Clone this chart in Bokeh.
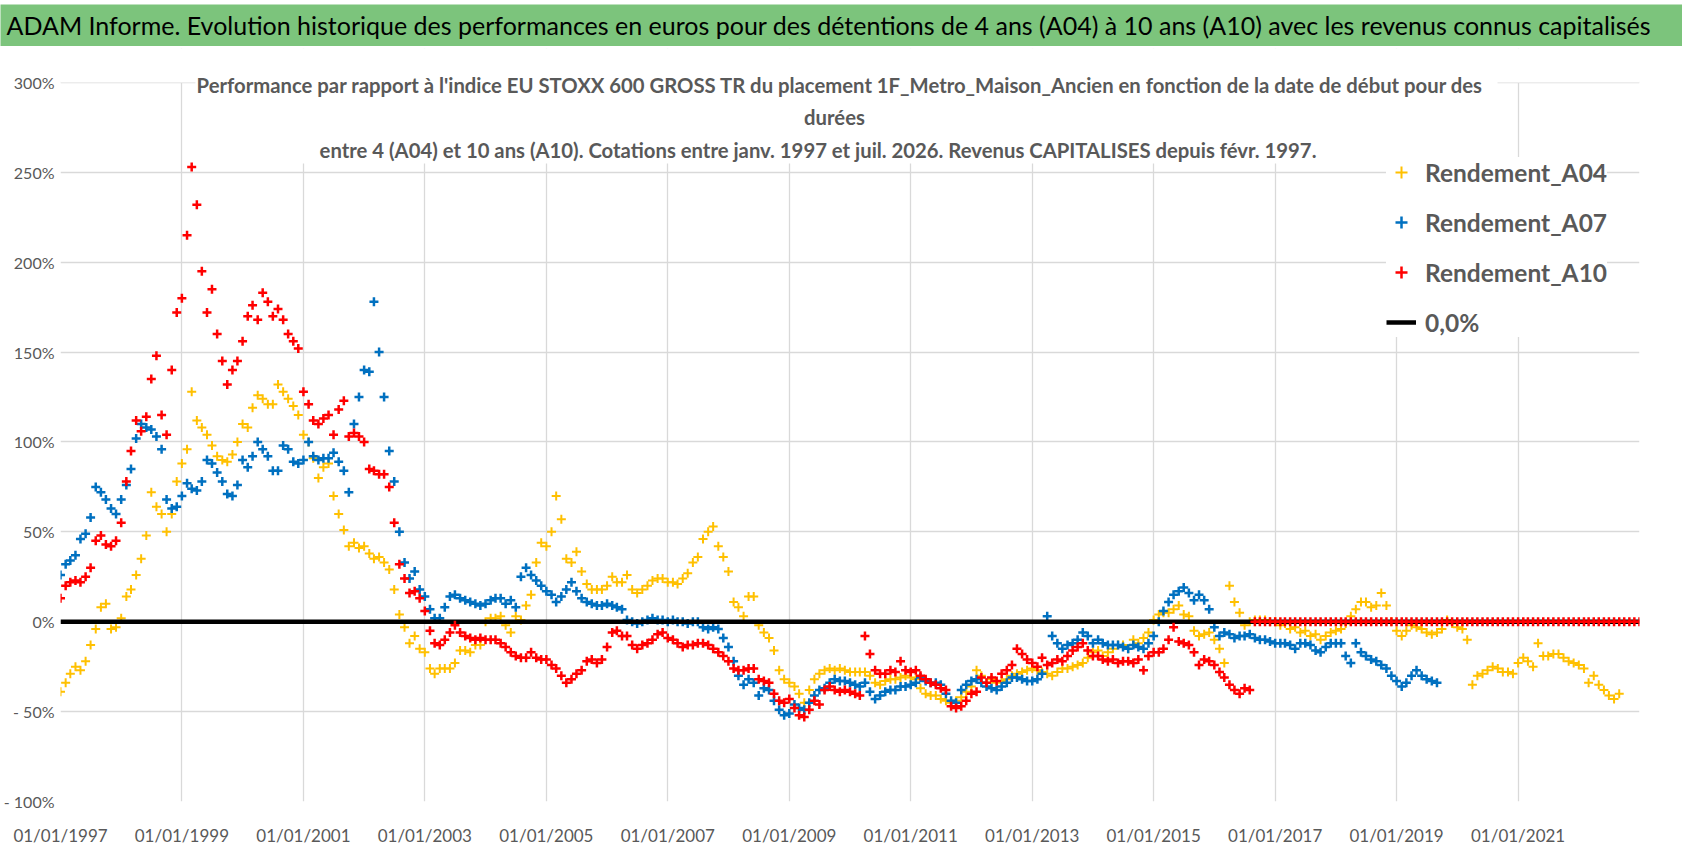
import pandas as pd
from bokeh.plotting import figure
from bokeh.layouts import column
from bokeh.models import (Range1d, FixedTicker, DatetimeTickFormatter, Legend,
                          LegendItem, Label, BoxAnnotation)
from bokeh.embed import file_html
from bokeh.resources import INLINE

FONT = "Lato"
GREY = "#595959"

# monthly readings, first value = janv. 1997
first_month = "1997-01-01"
axis_start = "1997-01-01"
axis_end = "2023-01-01"

rendement_a04 = [
    -39, -34, -29, -25, -27, -22, -13, -4, 8, 10,
    -4, -3, 2, 14, 18, 26, 35, 48, 72, 64,
    60, 50, 60, 78, 88, 96, 128, 112, 108, 104,
    98, 92, 90, 89, 93, 100, 110, 108, 119, 126,
    124, 121, 121, 132, 128, 124, 120, 115, 104, 100,
    91, 80, 86, 88, 70, 60, 51, 42, 44, 41,
    42, 38, 35, 36, 33, 29, 18, 4, -3, -12,
    -8, -15, -17, -26, -29, -26, -26, -26, -23, -16,
    -16, -17, -13, -13, 0, 2, 2, 3, -2, -6,
    3, 1, 9, 15, 33, 44, 42, 50, 70, 57,
    35, 33, 39, 28, 21, 18, 18, 18, 20, 25,
    22, 22, 26, 18, 16, 18, 20, 23, 24, 24,
    22, 22, 21, 24, 27, 33, 36, 46, 50, 53,
    42, 36, 28, 11, 8, 3, 14, 14, -2, -6,
    -9, -16, -27, -32, -34, -36, -40, -45, -38, -32,
    -29, -27, -26, -27, -26, -27, -28, -28, -28, -28,
    -30, -34, -35, -33, -32, -32, -31, -30, -31, -32,
    -37, -40, -41, -41, -43, -44, -45, -44, -42, -39,
    -36, -27, -30, -34, -32, -34, -33, -32, -30, -29,
    -28, -27, -26, -27, -28, -29, -30, -28, -26, -26,
    -25, -24, -23, -20, -17, -16, -19, -17, -15, -13,
    -13, -15, -10, -12, -9, -6, 1, 4, 5, 5,
    7, 9, 4, 3, -5, -8, -7, -6, -10, -15,
    -23, 20, 11, 5, -2, 0, 1, 1, 1, 0,
    0, -2, -1, -4, -3, -6, -5, -8, -7, -10,
    -8, -6, -5, -4, -1, 3, 7, 11, 11, 8,
    9, 16, 9, 0, -5, -8, -5, -2, -3, -4,
    -6, -7, -6, -4, 1, -1, -3, -4, -10, -35,
    -30, -29, -27, -25, -26, -28, -28, -29, -23, -20,
    -22, -25, -12, -19, -19, -18, -18, -20, -22, -23,
    -24, -26, -34, -30, -35, -38, -41, -43, -40,
]

rendement_a07 = [
    26, 32, 34, 37, 46, 49, 58, 75, 72, 68,
    63, 60, 68, 76, 85, 102, 110, 108, 107, 103,
    96, 68, 63, 64, 70, 77, 74, 73, 78, 90,
    88, 83, 78, 71, 70, 76, 90, 86, 92, 100,
    96, 92, 84, 84, 98, 96, 89, 88, 90, 100,
    92, 90, 91, 91, 94, 89, 84, 72, 110, 125,
    140, 139, 178, 150, 125, 95, 78, 50, 33, 24,
    28, 18, 14, 7, 2, 2, 8, 14, 15, 13,
    12, 11, 10, 9, 10, 12, 13, 13, 10, 12,
    8, 25, 30, 26, 23, 20, 17, 15, 11, 14,
    18, 22, 17, 13, 11, 10, 9, 9, 10, 9,
    8, 7, 1, 0, -1, 0, 1, 2, 1, 1,
    0, 1, 0, 0, -1, 0, 0, -3, -4, -3,
    -4, -9, -14, -22, -30, -35, -32, -34, -41, -37,
    -38, -44, -49, -52, -51, -46, -48, -49, -45, -41,
    -38, -37, -34, -32, -33, -33, -34, -35, -36, -34,
    -39, -43, -41, -39, -38, -38, -36, -36, -35, -34,
    -31, -33, -34, -34, -35, -40, -44, -45, -38, -35,
    -33, -32, -34, -36, -37, -38, -36, -34, -31, -31,
    -32, -33, -33, -32, -29, 3, -8, -12, -15, -13,
    -12, -10, -6, -8, -12, -10, -12, -13, -13, -13,
    -14, -15, -13, -14, -15, -12, -8, 0, 6, 11,
    15, 17, 19, 16, 12, 15, 12, 7, -3, -8,
    -6, -7, -9, -8, -8, -7, -9, -10, -10, -11,
    -12, -12, -12, -13, -15, -12, -12, -13, -16, -17,
    -14, -12, -12, -12, -19, -23, -12, -17, -19, -21,
    -22, -24, -26, -30, -33, -36, -34, -30, -27, -30,
    -32, -33, -34,
]

rendement_a10 = [
    13, 20, 22, 23, 22, 25, 30, 45, 48, 43,
    42, 45, 55, 78, 95, 112, 106, 114, 135, 148,
    115, 104, 140, 172, 180, 215, 253, 232, 195, 172,
    185, 160, 145, 132, 140, 145, 156, 170, 176, 168,
    183, 178, 170, 174, 168, 160, 156, 152, 128, 121,
    112, 110, 113, 115, 104, 118, 123, 103, 105, 103,
    100, 85, 84, 82, 82, 75, 55, 32, 24, 16,
    17, 13, 6, -5, -12, -13, -10, -6, -2, -6,
    -8, -9, -10, -9, -10, -10, -10, -12, -14, -17,
    -19, -20, -20, -17, -20, -21, -21, -24, -26, -30,
    -34, -32, -29, -27, -22, -21, -23, -21, -14, -6,
    -5, -8, -8, -13, -15, -13, -12, -10, -7, -6,
    -9, -10, -12, -14, -13, -13, -12, -12, -13, -15,
    -17, -19, -22, -26, -27, -27, -26, -26, -32, -33,
    -34, -40, -44, -45, -43, -48, -52, -53, -49, -44,
    -46, -38, -36, -38, -39, -38, -39, -40, -41, -8,
    -18, -27, -29, -29, -27, -28, -22, -27, -28, -27,
    -30, -32, -34, -35, -37, -38, -47, -48, -47, -44,
    -40, -39, -31, -34, -31, -33, -29, -27, -24, -15,
    -18, -21, -23, -25, -20, -24, -23, -21, -22, -19,
    -16, -14, -12, -16, -19, -19, -21, -22, -21, -23,
    -22, -22, -23, -21, -27, -19, -17, -17, -15, -10,
    -3, -11, -12, -13, -17, -24, -21, -22, -24, -28,
    -31, -35, -38, -40, -37, -38, 0, 0, 0, 0,
    0, 0, 0, 0, 0, 0, 0, 0, 0, 0,
    0, 0, 0, 0, 0, 0, 0, 0, 0, 0,
    0, 0, 0, 0, 0, 0, 0, 0, 0, 0,
    0, 0, 0, 0, 0, 0, 0, 0, 0, 0,
    0, 0, 0, 0, 0, 0, 0, 0, 0, 0,
    0, 0, 0, 0, 0, 0, 0, 0, 0, 0,
    0, 0, 0, 0, 0, 0, 0, 0, 0, 0,
    0, 0, 0,
]

zero_line = [0.0, 0.0]

year_ticks = [1997, 1999, 2001, 2003, 2005, 2007, 2009, 2011, 2013, 2015, 2017, 2019, 2021]
pct_ticks = [-100, -50, 0, 50, 100, 150, 200, 250, 300]
pct_labels = ["- 100%", "- 50%", "0%", "50%", "100%", "150%", "200%", "250%", "300%"]

header = ("ADAM Informe. Evolution historique des performances en euros pour des détentions "
          "de 4 ans (A04) à 10 ans (A10) avec les revenus connus capitalisés")
subtitle = [
    "Performance par rapport à l'indice EU STOXX 600 GROSS TR  du placement 1F_Metro_Maison_Ancien "
    "en fonction de la date de début pour des",
    "durées",
    "entre 4 (A04) et 10 ans (A10).  Cotations entre janv. 1997 et juil. 2026. "
    "Revenus CAPITALISES depuis févr. 1997.",
]
series_names = ["Rendement_A04", "Rendement_A07", "Rendement_A10", "0,0%"]


def month_dates(values):
    return pd.date_range(first_month, periods=len(values), freq="MS")


# header band
head = figure(width=1682, height=46, x_range=(0, 1), y_range=(0, 1),
              toolbar_location=None, output_backend="svg",
              x_axis_location=None, y_axis_location=None,
              min_border=0, min_border_top=4)
head.frame_align = False
head.grid.visible = False
head.background_fill_color = "#7CC47C"
head.border_fill_color = "white"
head.outline_line_color = None
head.add_layout(Label(x=6, y=22, x_units="screen", y_units="screen", text=header,
                      text_font=FONT, text_font_size="25px",
                      text_color="black", text_baseline="middle"))

# main chart
p = figure(width=1682, height=802, toolbar_location=None, output_backend="svg",
           x_axis_type="datetime",
           x_range=Range1d(pd.Timestamp(axis_start), pd.Timestamp(axis_end)),
           y_range=Range1d(-100, 300 + 34 / 1.8),
           min_border_left=55, min_border_right=43, min_border_top=2, min_border_bottom=46)
p.frame_align = False
p.outline_line_color = None
p.background_fill_color = "white"
p.border_fill_color = "white"

p.xaxis.ticker = FixedTicker(ticks=[pd.Timestamp(f"{y}-01-01").value // 10**6 for y in year_ticks])
p.xaxis.formatter = DatetimeTickFormatter(years="%d/%m/%Y", months="%d/%m/%Y", days="%d/%m/%Y")
p.yaxis.ticker = FixedTicker(ticks=pct_ticks)
p.yaxis.major_label_overrides = dict(zip(pct_ticks, pct_labels))

for ax in (p.xaxis, p.yaxis):
    ax.axis_line_color = None
    ax.major_tick_line_color = None
    ax.minor_tick_line_color = None
    ax.major_tick_out = 0
    ax.minor_tick_out = 0
    ax.major_label_text_font = FONT
    ax.major_label_text_color = GREY
p.xaxis.major_label_text_font_size = "17px"
p.yaxis.major_label_text_font_size = "16px"
p.xaxis.major_label_standoff = 23
p.yaxis.major_label_standoff = 6

p.grid.grid_line_color = "#D9D9D9"
p.grid.grid_line_width = 1.3

# nothing of the grid shows above 300 %, nor behind the chart title
p.add_layout(BoxAnnotation(bottom=300, fill_color="white", fill_alpha=1.0,
                           line_color=None, level="underlay"))
p.add_layout(BoxAnnotation(left=135, right=1437, bottom=638,
                           left_units="screen", right_units="screen", bottom_units="screen",
                           fill_color="white", fill_alpha=1.0, line_color=None,
                           level="underlay"))

r04 = p.scatter(month_dates(rendement_a04), rendement_a04, marker="cross", size=9,
                line_color="#FFC000", line_width=2.0)
r07 = p.scatter(month_dates(rendement_a07), rendement_a07, marker="cross", size=9,
                line_color="#0070C0", line_width=2.5)
r0 = p.line([pd.Timestamp(axis_start), pd.Timestamp(axis_end)], zero_line,
            line_color="black", line_width=4.5)
r10 = p.scatter(month_dates(rendement_a10), rendement_a10, marker="cross", size=9,
                line_color="#FF0000", line_width=2.5)

# frame starts 7 px further left than before, so the texts move right by 7
for txt, cx, cy in zip(subtitle, [782, 774, 760], [717, 685, 652]):
    p.add_layout(Label(x=cx, y=cy, x_units="screen", y_units="screen", text=txt,
                       text_font=FONT, text_font_size="20.3px", text_font_style="bold",
                       text_color=GREY, text_align="center", text_baseline="middle"))

legend = Legend(items=[LegendItem(label=n, renderers=[r]) for n, r in
                       zip(series_names, [r04, r07, r10, r0])],
                location=(1326, 464), margin=0, padding=14, spacing=20,
                glyph_width=30, glyph_height=30, label_height=30, label_standoff=9,
                border_line_color=None, background_fill_color="white",
                background_fill_alpha=1.0,
                label_text_font=FONT, label_text_font_size="24.5px",
                label_text_font_style="bold", label_text_color=GREY)
p.add_layout(legend)

layout = column(head, p, spacing=0)
open("out.html", "w").write(file_html(layout, INLINE))
